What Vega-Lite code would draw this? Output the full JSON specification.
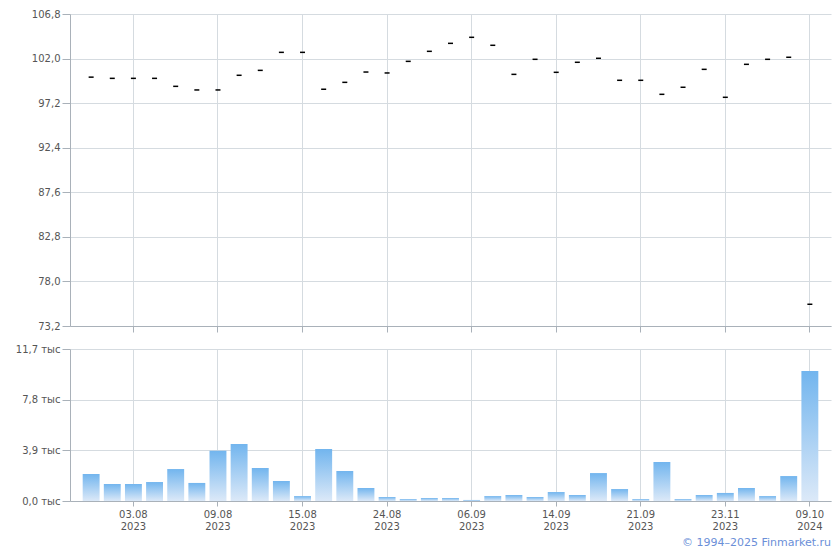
{
  "$schema": "https://vega.github.io/schema/vega-lite/v6.json",
  "background": "white",
  "padding": {"left": 5, "top": 9, "right": 9, "bottom": 1},
  "spacing": 11,
  "title": {"text": "© 1994–2025 Finmarket.ru", "orient": "bottom", "anchor": "end", "fontSize": 11, "fontWeight": "normal", "color": "#6b8fd8", "font": "DejaVu Sans", "offset": 6},
  "data": {"values": [
    {"d": "01.08.2023", "p": 100.0, "v": 2080},
    {"d": "02.08.2023", "p": 99.87, "v": 1310},
    {"d": "03.08.2023", "p": 99.87, "v": 1310},
    {"d": "04.08.2023", "p": 99.87, "v": 1460},
    {"d": "07.08.2023", "p": 99.01, "v": 2460},
    {"d": "08.08.2023", "p": 98.62, "v": 1390},
    {"d": "09.08.2023", "p": 98.62, "v": 3870},
    {"d": "10.08.2023", "p": 100.2, "v": 4390},
    {"d": "11.08.2023", "p": 100.73, "v": 2540},
    {"d": "14.08.2023", "p": 102.67, "v": 1540},
    {"d": "15.08.2023", "p": 102.67, "v": 380},
    {"d": "16.08.2023", "p": 98.69, "v": 4000},
    {"d": "17.08.2023", "p": 99.44, "v": 2310},
    {"d": "21.08.2023", "p": 100.55, "v": 1000},
    {"d": "24.08.2023", "p": 100.45, "v": 310},
    {"d": "25.08.2023", "p": 101.7, "v": 150},
    {"d": "29.08.2023", "p": 102.78, "v": 230},
    {"d": "01.09.2023", "p": 103.64, "v": 230},
    {"d": "06.09.2023", "p": 104.29, "v": 80},
    {"d": "07.09.2023", "p": 103.43, "v": 380},
    {"d": "08.09.2023", "p": 100.3, "v": 460},
    {"d": "12.09.2023", "p": 101.92, "v": 310},
    {"d": "14.09.2023", "p": 100.52, "v": 690},
    {"d": "15.09.2023", "p": 101.6, "v": 460},
    {"d": "18.09.2023", "p": 102.03, "v": 2150},
    {"d": "19.09.2023", "p": 99.66, "v": 920},
    {"d": "21.09.2023", "p": 99.66, "v": 150},
    {"d": "22.09.2023", "p": 98.15, "v": 3000},
    {"d": "03.10.2023", "p": 98.91, "v": 150},
    {"d": "13.10.2023", "p": 100.84, "v": 460},
    {"d": "23.11.2023", "p": 97.83, "v": 620},
    {"d": "05.12.2023", "p": 101.38, "v": 1000},
    {"d": "14.03.2024", "p": 101.92, "v": 380},
    {"d": "28.06.2024", "p": 102.14, "v": 1920},
    {"d": "09.10.2024", "p": 75.54, "v": 10000}
  ]},
  "vconcat": [
    {
      "width": 761,
      "height": 312,
      "mark": {"type": "tick", "color": "#000000", "size": 5, "thickness": 1.5, "opacity": 1},
      "encoding": {
        "x": {"field": "d", "type": "ordinal", "sort": null,
              "scale": {"type": "band", "paddingInner": 0.2, "paddingOuter": 0.6},
              "axis": {"title": null, "labels": false, "ticks": true, "tickSize": 6, "bandPosition": 0.5,
                       "values": ["03.08.2023","09.08.2023","15.08.2023","24.08.2023","06.09.2023","14.09.2023","21.09.2023","23.11.2023","09.10.2024"]}},
        "y": {"field": "p", "type": "quantitative",
              "scale": {"domain": [73.2, 106.8], "zero": false, "nice": false},
              "axis": {"title": null, "values": [73.2, 78.0, 82.8, 87.6, 92.4, 97.2, 102.0, 106.8],
                       "labelExpr": "replace(format(datum.value, '.1f'), '.', ',')"}}
      }
    },
    {
      "width": 761,
      "height": 152,
      "mark": {"type": "bar", "color": {"gradient": "linear", "x1": 0, "y1": 0, "x2": 0, "y2": 1,
               "stops": [{"offset": 0, "color": "#72b5ee"}, {"offset": 1, "color": "#dce9f8"}]}},
      "encoding": {
        "x": {"field": "d", "type": "ordinal", "sort": null,
              "scale": {"type": "band", "paddingInner": 0.2, "paddingOuter": 0.6},
              "axis": {"title": null, "tickSize": 5, "bandPosition": 0.5, "labelAngle": 0, "labelLineHeight": 12, "labelPadding": 3,
                       "values": ["03.08.2023","09.08.2023","15.08.2023","24.08.2023","06.09.2023","14.09.2023","21.09.2023","23.11.2023","09.10.2024"],
                       "labelExpr": "[slice(datum.value, 0, 5), slice(datum.value, 6)]"}},
        "y": {"field": "v", "type": "quantitative",
              "scale": {"domain": [0, 11700], "nice": false},
              "axis": {"title": null, "values": [0, 3900, 7800, 11700],
                       "labelExpr": "replace(format(datum.value / 1000, '.1f'), '.', ',') + ' тыс'"}}
      }
    }
  ],
  "config": {
    "view": {"stroke": null},
    "font": "DejaVu Sans",
    "axis": {
      "labelFont": "DejaVu Sans",
      "labelFontSize": 10,
      "labelColor": "#555555",
      "gridColor": "#d5dbe0",
      "gridOpacity": 1,
      "domainColor": "#a9b1b9",
      "tickColor": "#a9b1b9",
      "grid": true
    },
    "axisY": {"minExtent": 65, "maxExtent": 65, "tickSize": 8, "labelPadding": 2, "domainColor": "#a9b1b9"}
  }
}
